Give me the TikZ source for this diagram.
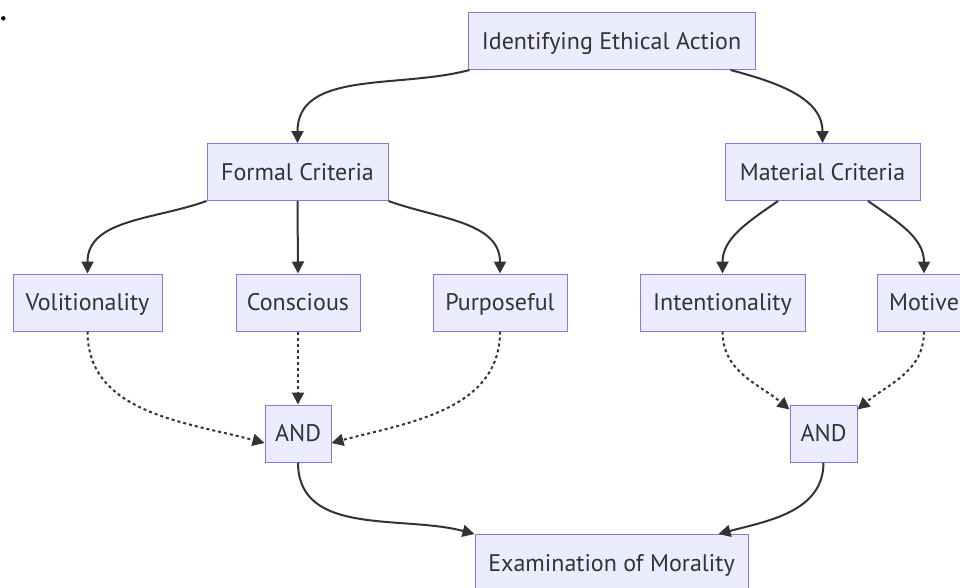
\documentclass[tikz,border=0pt]{standalone}
\usepackage{fontspec}
\setmainfont{PT Sans}
\usetikzlibrary{arrows.meta}
\definecolor{nodefill}{HTML}{ECECFF}
\definecolor{nodeline}{HTML}{9370DB}
\definecolor{txt}{HTML}{333333}
\definecolor{edge}{HTML}{333333}
\tikzset{
  box/.style={draw=nodeline, fill=nodefill, line width=1pt, text=txt, minimum height=57pt, inner sep=0pt, text height=17.5pt, text depth=1pt, font=\fontsize{24}{28}\selectfont},
  conn/.style={draw=edge, line width=2pt, -{Triangle[length=12pt,width=12pt]}},
  dconn/.style={conn, dash pattern=on 3pt off 3pt},
}
\begin{document}
\begin{tikzpicture}[x=1pt,y=-1pt]
\path[use as bounding box] (0,0) rectangle (960,587);
\begin{scope}
\clip (0,0) rectangle (960,587);
\fill[black] (3.3,18.3) circle (2.2pt);
\node[box, minimum width=287pt] (iea) at (611.5,41) {Identifying Ethical Action};
\node[box, minimum width=181pt] (fc) at (297.5,172) {Formal Criteria};
\node[box, minimum width=195pt] (mc) at (822.5,172) {Material Criteria};
\node[box, minimum width=149pt] (vol) at (87.5,302.5) {Volitionality};
\node[box, minimum width=124pt] (con) at (298,302.5) {Conscious};
\node[box, minimum width=134pt] (pur) at (500,302.5) {Purposeful};
\node[box, minimum width=165pt] (int) at (722.5,302.5) {Intentionality};
\node[box, minimum width=94pt] (mot) at (924,302.5) {Motive};
\node[box, minimum width=66pt] (and1) at (298,433.5) {AND};
\node[box, minimum width=67pt] (and2) at (823.5,433.5) {AND};
\node[box, minimum width=273pt] (eom) at (611.5,563) {Examination of Morality};

\coordinate (iea-l) at ([xshift=2pt]iea.south west);
\coordinate (iea-r) at ([xshift=-25pt]iea.south east);
\draw[conn] (iea-l) to[out=195, in=90] (fc.north);
\draw[conn] (iea-r) to[out=-15, in=90] (mc.north);

\draw[conn] (fc.south west) to[out=-160, in=90] (vol.north);
\draw[conn] (fc.south) -- (con.north);
\draw[conn] (fc.south east) to[out=-20, in=90] (pur.north);

\coordinate (mc-l) at ([xshift=-44.5pt]mc.south);
\coordinate (mc-r) at ([xshift=45.5pt]mc.south);
\draw[conn] (mc-l) to[out=-145, in=90] (int.north);
\draw[conn] (mc-r) to[out=-35, in=90] (mot.north);

\coordinate (and1-l) at ([yshift=-9.5pt]and1.west);
\coordinate (and1-r) at ([yshift=-9.5pt]and1.east);
\draw[dconn] (vol.south) to[out=-90, in=165] (and1-l);
\draw[dconn] (con.south) -- (and1.north);
\draw[dconn] (pur.south) to[out=-90, in=15] (and1-r);

\coordinate (and2-l) at ([yshift=-5pt]and2.north west);
\coordinate (and2-r) at ([yshift=-5pt]and2.north east);
\draw[dconn] (int.south) to[out=-90, in=140] (and2-l);
\draw[dconn] (mot.south) to[out=-90, in=40] (and2-r);

\coordinate (eom-r) at ([xshift=-30pt]eom.north east);
\draw[conn] (and1.south) to[out=-90, in=165] (eom.north west);
\draw[conn] (and2.south) to[out=-90, in=15] (eom-r);
\end{scope}
\end{tikzpicture}
\end{document}
